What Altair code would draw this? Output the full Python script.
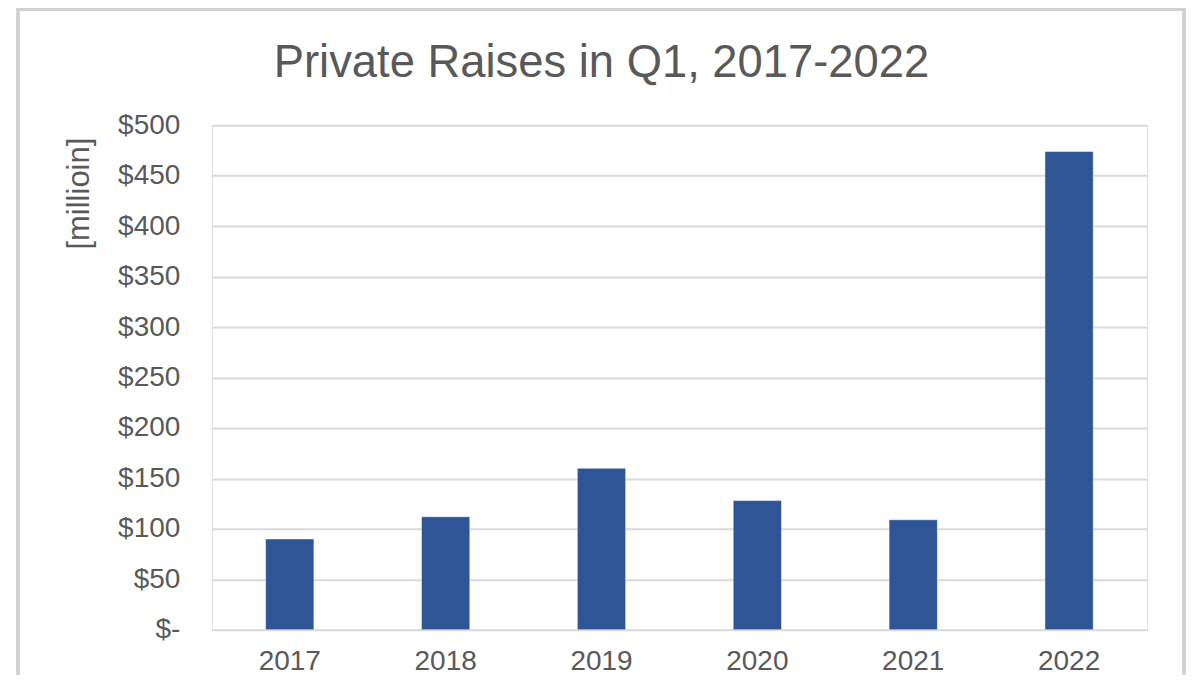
import altair as alt
import pandas as pd

years = ["2017", "2018", "2019", "2020", "2021", "2022"]
raises = [90, 112, 160, 128, 109, 474]
y_ticks = [0, 50, 100, 150, 200, 250, 300, 350, 400, 450, 500]

df = pd.DataFrame({"year": years, "raise": raises})

W, H = 936, 505
TXT = "#595959"
GRID = "#D9D9D9"

bars = alt.Chart(df).mark_bar(color="#2F5597", stroke="#FFFFFF", strokeWidth=0.5).encode(
    x=alt.X(
        "year:N",
        sort=years,
        scale=alt.Scale(paddingInner=0.69, paddingOuter=0.345),
        axis=alt.Axis(
            title=None,
            labelAngle=0,
            labelFontSize=28,
            labelColor=TXT,
            labelFont="Liberation Sans",
            labelPadding=18,
            ticks=False,
            domain=False,
        ),
    ),
    y=alt.Y(
        "raise:Q",
        scale=alt.Scale(domain=[0, 500], nice=False),
        axis=alt.Axis(
            title="[millioin]",
            values=y_ticks,
            labelExpr="datum.value == 0 ? '$-' : '$' + datum.value",
            labelFontSize=28,
            labelColor=TXT,
            labelFont="Liberation Sans",
            labelPadding=32,
            ticks=False,
            domain=False,
            grid=True,
            gridColor=GRID,
            gridWidth=2,
            titleFontSize=31,
            titleFont="Liberation Sans",
            titleFontWeight="normal",
            titleColor=TXT,
            titleAngle=-90,
            titleX=-132,
            titleY=68,
            titleAlign="center",
            titleBaseline="middle",
        ),
    ),
)

frame = alt.Chart(df).mark_rect(fill=None, stroke="#D0D0D0", strokeWidth=2.5).encode(
    x=alt.value(-194),
    x2=alt.value(973),
    y=alt.value(-116),
    y2=alt.value(H + 80),
)

chart = (
    alt.layer(frame, bars)
    .properties(
        width=W,
        height=H,
        autosize=alt.AutoSizeParams(type="none"),
        padding={"left": 204, "top": 117, "right": 40, "bottom": 45},
        title=alt.TitleParams(
            text="Private Raises in Q1, 2017-2022",
            fontSize=45.4,
            font="Liberation Sans",
            fontWeight="normal",
            color=TXT,
            anchor="middle",
            frame="group",
            baseline="alphabetic",
            dx=-78,
            dy=114,
            offset=0,
        ),
    )
    .configure_view(stroke=None)
    .configure(background="white")
)

chart.save("out.html", embed_options={"renderer": "svg", "actions": False})
